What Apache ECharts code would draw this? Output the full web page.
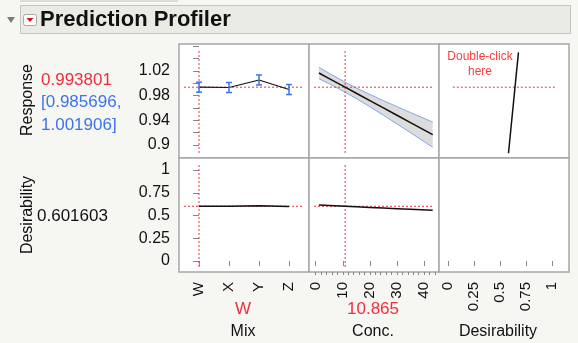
<!DOCTYPE html>
<html>
<head>
<meta charset="utf-8">
<script src="https://cdn.jsdelivr.net/npm/echarts@6/dist/echarts.min.js"></script>
<style>
html,body{margin:0;padding:0;background:#f6f6f2;}
#c{width:578px;height:343px;}
</style>
</head>
<body>
<div id="c"></div>
<script>
// ---------- data ----------
const mixCats = ['W', 'X', 'Y', 'Z'];
const mixResp = [0.993801, 0.9933, 1.0055, 0.9900];
const mixLow  = [0.985696, 0.9852, 0.9974, 0.9819];
const mixHigh = [1.001906, 1.0014, 1.0136, 0.9981];
const mixDesir = [0.601603, 0.6012, 0.6080, 0.6000];

const concX    = [1.2, 5, 10.865, 15, 20, 25, 30, 35, 43.2];
const concResp = [1.0168, 1.0078, 0.9938, 0.9840, 0.9721, 0.9602, 0.9483, 0.9364, 0.9168];
const concLow  = [1.0075, 0.9994, 0.9857, 0.9754, 0.9621, 0.9484, 0.9343, 0.9201, 0.8964];
const concHigh = [1.0261, 1.0162, 1.0019, 0.9926, 0.9821, 0.9720, 0.9623, 0.9527, 0.9372];
const concDesir = [0.615, 0.6098, 0.6016, 0.5960, 0.5891, 0.5822, 0.5753, 0.5684, 0.557];

const desirCurveD = [0.679, 0.583];
const desirCurveR = [1.0503, 0.8867];

const curMixIdx = 0;
const curMixLabel = 'W';
const curConc = 10.865;
const curConcLabel = '10.865';
const curResp = 0.993801;
const curRespText = '0.993801';
const curCIText1 = '[0.985696,';
const curCIText2 = '1.001906]';
const curDesir = 0.601603;
const curDesirText = '0.601603';

const respTicks = [0.9, 0.94, 0.98, 1.02];
const respMinor = [0.9, 0.92, 0.94, 0.96, 0.98, 1.0, 1.02, 1.04, 1.06];
const desTicks = [0, 0.25, 0.5, 0.75, 1];
const mixTicks = [0, 1, 2, 3];
const concTicks = [0, 10, 20, 30, 40];
const concMinor = [0,2,4,6,8,10,12,14,16,18,20,22,24,26,28,30,32,34,36,38,40,42,44];
const desXTicks = [0, 0.25, 0.5, 0.75, 1];

// ---------- layout ----------
const FONT = "Helvetica, 'Liberation Sans', Arial, sans-serif";
const RED = '#ef2f3f';
const BLUE = '#3d74ea';
const colL = [179, 309, 439], colW = 130;
const rowT = [44, 158], rowH = 114;
const xr = [[-2/3, 11/3], [-2.47, 45.53], [-0.085, 1.165]];
const yr = [[0.879, 1.0638], [-0.121, 1.132]];

const grids = [], xAxes = [], yAxes = [];
for (let r = 0; r < 2; r++) {
  for (let c = 0; c < 3; c++) {
    const gi = grids.length;
    grids.push({left: colL[c], top: rowT[r], width: colW, height: rowH,
      show: true, backgroundColor: '#ffffff', borderColor: '#a6a6a6', borderWidth: 1.5});
    const bottom = r === 1;
    const xticks = c === 0 ? mixTicks : (c === 1 ? concTicks : desXTicks);
    xAxes.push({gridIndex: gi, type: 'value', min: xr[c][0], max: xr[c][1],
      axisLine: {show: false}, splitLine: {show: false},
      axisTick: {show: bottom, customValues: xticks, length: 5, lineStyle: {color: '#888'}},
      axisLabel: {show: bottom, customValues: xticks, rotate: 90, margin: 10,
        fontSize: 15, color: '#111', fontFamily: FONT,
        formatter: c === 0 ? (v => mixCats[Math.round(v)]) : (v => String(+(+v).toFixed(2)))}
    });
    const yt = r === 0 ? respTicks : desTicks;
    const ym = r === 0 ? respMinor : desTicks;
    yAxes.push({gridIndex: gi, type: 'value', min: yr[r][0], max: yr[r][1],
      axisLine: {show: false}, splitLine: {show: false},
      axisTick: {show: c === 0, customValues: ym, length: 6, lineStyle: {color: '#888'}},
      axisLabel: {show: c === 0, customValues: yt, margin: 9, fontSize: 16, color: '#111', fontFamily: FONT,
        formatter: v => String(+(+v).toFixed(2))}
    });
  }
}
// minor ticks for Conc bottom axis
xAxes.push({gridIndex: 4, type: 'value', min: xr[1][0], max: xr[1][1], position: 'bottom',
  axisLine: {show: false}, splitLine: {show: false},
  axisTick: {show: true, customValues: concMinor, length: 3, lineStyle: {color: '#888'}},
  axisLabel: {show: false}});

function cross(ax, data) {
  return {type: 'line', xAxisIndex: ax, yAxisIndex: ax, data: data, symbol: 'none', silent: true,
    lineStyle: {color: RED, width: 1, type: [2, 2]}, z: 3};
}
function blackLine(ax, data, w) {
  return {type: 'line', xAxisIndex: ax, yAxisIndex: ax, data: data, symbol: 'none', silent: true,
    lineStyle: {color: '#111', width: w}, z: 4};
}

const series = [];
// Conc CI band fill
series.push({type: 'custom', xAxisIndex: 1, yAxisIndex: 1, data: [[concX[0], concLow[0]]], z: 1,
  renderItem: function (params, api) {
    const pts = [];
    for (let i = 0; i < concX.length; i++) pts.push(api.coord([concX[i], concHigh[i]]));
    for (let i = concX.length - 1; i >= 0; i--) pts.push(api.coord([concX[i], concLow[i]]));
    return {type: 'polygon', shape: {points: pts}, style: {fill: '#dcdcdc'}};
  }});
series.push({type: 'line', xAxisIndex: 1, yAxisIndex: 1, symbol: 'none', z: 2,
  data: concX.map((x, i) => [x, concHigh[i]]), lineStyle: {color: '#86a6ee', width: 1}});
series.push({type: 'line', xAxisIndex: 1, yAxisIndex: 1, symbol: 'none', z: 2,
  data: concX.map((x, i) => [x, concLow[i]]), lineStyle: {color: '#86a6ee', width: 1}});

// crosshairs top row
series.push(cross(0, [[curMixIdx, 1.0524], [curMixIdx, 0.8872]]));
series.push(cross(0, [[-0.5, curResp], [3.467, curResp]]));
series.push(cross(1, [[curConc, 1.0524], [curConc, 0.8872]]));
series.push(cross(1, [[-0.63, curResp], [43.3, curResp]]));
series.push(cross(2, [[0.048, curResp], [1.032, curResp]]));
// crosshairs bottom row
series.push(cross(3, [[curMixIdx, 1.055], [curMixIdx, -0.077]]));
series.push(cross(3, [[-0.5, curDesir], [3.467, curDesir]]));
series.push(cross(4, [[curConc, 1.055], [curConc, -0.077]]));
series.push(cross(4, [[-0.63, curDesir], [43.3, curDesir]]));

// profile lines
series.push(blackLine(0, mixResp.map((v, i) => [i, v]), 1.2));
series.push(blackLine(1, concX.map((x, i) => [x, concResp[i]]), 1.5));
series.push(blackLine(2, desirCurveD.map((d, i) => [d, desirCurveR[i]]), 1.5));
series.push(blackLine(3, mixDesir.map((v, i) => [i, v]), 1.5));
series.push(blackLine(4, concX.map((x, i) => [x, concDesir[i]]), 1.5));

// error bars
series.push({type: 'custom', xAxisIndex: 0, yAxisIndex: 0, z: 5,
  data: mixLow.map((lo, i) => [i, lo, mixHigh[i]]),
  renderItem: function (params, api) {
    const x = api.value(0);
    const a = api.coord([x, api.value(1)]), b = api.coord([x, api.value(2)]);
    const w = 3, st = {stroke: BLUE, lineWidth: 1.5};
    return {type: 'group', children: [
      {type: 'line', shape: {x1: a[0], y1: a[1], x2: b[0], y2: b[1]}, style: st},
      {type: 'line', shape: {x1: a[0] - w, y1: a[1], x2: a[0] + w, y2: a[1]}, style: st},
      {type: 'line', shape: {x1: b[0] - w, y1: b[1], x2: b[0] + w, y2: b[1]}, style: st}
    ]};
  }});

const txt = (x, y, text, o) => Object.assign({type: 'text', x: x, y: y,
  style: Object.assign({text: text, font: '16px ' + FONT, fill: '#111', align: 'left', verticalAlign: 'middle'}, o || {})});

const graphic = [
  {type: 'line', shape: {x1: 20, y1: 1, x2: 178, y2: 1}, style: {stroke: '#c4c4c0', lineWidth: 1}},
  {type: 'rect', shape: {x: 20.5, y: 5.5, width: 550, height: 28}, style: {fill: '#ebebe6', stroke: '#c4c4c0', lineWidth: 1}},
  {type: 'polygon', shape: {points: [[7, 17], [15, 17], [11, 23]]}, style: {fill: '#7c7c7c'}},
  {type: 'rect', shape: {x: 23.5, y: 14.5, width: 13, height: 11, r: 2}, style: {fill: '#ffffff', stroke: '#a8a8a8', lineWidth: 1}},
  {type: 'polygon', shape: {points: [[26.5, 18], [33.5, 18], [30, 22]]}, style: {fill: '#d8101c'}},
  txt(40, 20, 'Prediction Profiler', {font: 'bold 22px ' + FONT}),
  Object.assign(txt(28, 100, 'Response', {align: 'center'}), {rotation: Math.PI / 2}),
  txt(41, 80, curRespText, {fill: RED, font: '17px ' + FONT}),
  txt(41, 102, curCIText1, {fill: BLUE, font: '17px ' + FONT}),
  txt(41, 125, curCIText2, {fill: BLUE, font: '17px ' + FONT}),
  Object.assign(txt(28, 215, 'Desirability', {align: 'center'}), {rotation: Math.PI / 2}),
  txt(37, 216, curDesirText, {font: '17px ' + FONT}),
  txt(480, 57, 'Double-click', {fill: '#ff3b3b', font: '12px ' + FONT, align: 'center'}),
  txt(480, 72, 'here', {fill: '#ff3b3b', font: '12px ' + FONT, align: 'center'}),
  txt(243, 309, curMixLabel, {fill: RED, font: '17px ' + FONT, align: 'center'}),
  txt(373, 309, curConcLabel, {fill: RED, font: '17px ' + FONT, align: 'center'}),
  txt(243, 332, 'Mix', {align: 'center'}),
  txt(373, 332, 'Conc.', {align: 'center'}),
  txt(498, 332, 'Desirability', {align: 'center'})
];

const chart = echarts.init(document.getElementById('c'), null, {renderer: 'canvas'});
chart.setOption({
  backgroundColor: '#f6f6f2',
  animation: false,
  grid: grids, xAxis: xAxes, yAxis: yAxes,
  series: series,
  graphic: graphic
});
</script>
</body>
</html>
